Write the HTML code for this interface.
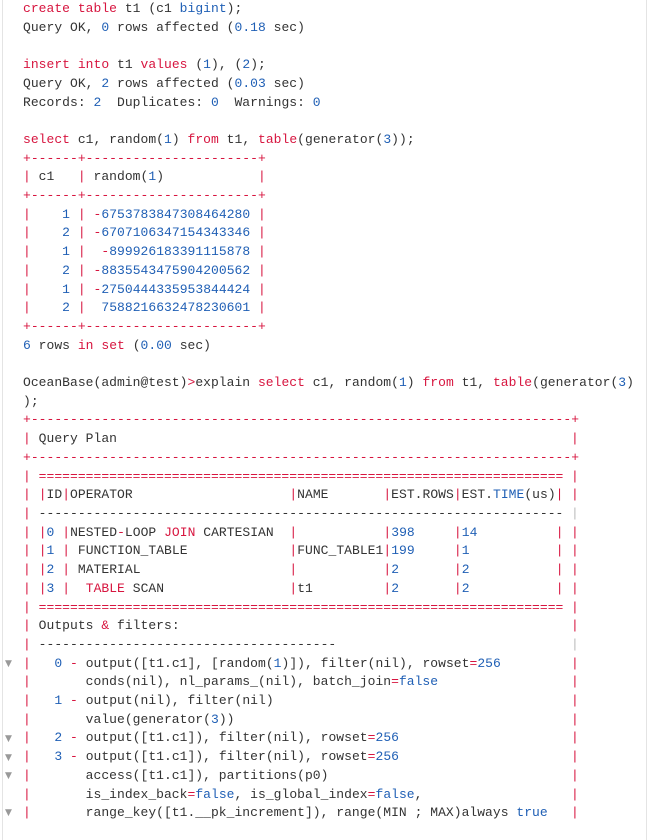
<!DOCTYPE html>
<html><head><meta charset="utf-8"><style>
html,body{margin:0;padding:0;background:#fff;width:649px;height:832px;overflow:hidden;}
.wrap{position:absolute;left:2px;top:0;width:643px;height:840px;border-left:1px solid #e4e4e4;border-right:1px solid #e4e4e4;}
pre{position:absolute;left:23px;top:0px;margin:0;font-family:"Liberation Mono",monospace;font-size:13px;letter-spacing:0.03px;line-height:18.7px;color:#333;}
.k{color:#d7153f}.n{color:#1f5fb5}.g{color:#bbb}
.r{position:absolute;left:548px;color:#d7153f}
.rg{position:absolute;left:548px;color:#bbb}
.f{position:absolute;left:5px;font-size:9px;color:#999;font-family:"DejaVu Sans",sans-serif;}
</style></head><body><div class="wrap"></div>
<pre><span class="k">create</span> <span class="k">table</span> t1 (c1 <span class="n">bigint</span>);
Query OK, <span class="n">0</span> rows affected (<span class="n">0.18</span> sec)

<span class="k">insert</span> <span class="k">into</span> t1 <span class="k">values</span> (<span class="n">1</span>), (<span class="n">2</span>);
Query OK, <span class="n">2</span> rows affected (<span class="n">0.03</span> sec)
Records: <span class="n">2</span>  Duplicates: <span class="n">0</span>  Warnings: <span class="n">0</span>

<span class="k">select</span> c1, random(<span class="n">1</span>) <span class="k">from</span> t1, <span class="k">table</span>(generator(<span class="n">3</span>));
<span class="k">+------+----------------------+</span>
<span class="k">|</span> c1   <span class="k">|</span> random(<span class="n">1</span>)            <span class="k">|</span>
<span class="k">+------+----------------------+</span>
<span class="k">|</span>    <span class="n">1</span> <span class="k">|</span> <span class="k">-</span><span class="n">6753783847308464280</span> <span class="k">|</span>
<span class="k">|</span>    <span class="n">2</span> <span class="k">|</span> <span class="k">-</span><span class="n">6707106347154343346</span> <span class="k">|</span>
<span class="k">|</span>    <span class="n">1</span> <span class="k">|</span>  <span class="k">-</span><span class="n">899926183391115878</span> <span class="k">|</span>
<span class="k">|</span>    <span class="n">2</span> <span class="k">|</span> <span class="k">-</span><span class="n">8835543475904200562</span> <span class="k">|</span>
<span class="k">|</span>    <span class="n">1</span> <span class="k">|</span> <span class="k">-</span><span class="n">2750444335953844424</span> <span class="k">|</span>
<span class="k">|</span>    <span class="n">2</span> <span class="k">|</span>  <span class="n">7588216632478230601</span> <span class="k">|</span>
<span class="k">+------+----------------------+</span>
<span class="n">6</span> rows <span class="k">in</span> <span class="k">set</span> (<span class="n">0.00</span> sec)

OceanBase(admin@test)<span class="k">&gt;</span>explain <span class="k">select</span> c1, random(<span class="n">1</span>) <span class="k">from</span> t1, <span class="k">table</span>(generator(<span class="n">3</span>)
);
<span class="k">+---------------------------------------------------------------------+</span>
<span class="k">|</span> Query Plan<span class="r">|</span>
<span class="k">+---------------------------------------------------------------------+</span>
<span class="k">| ===================================================================</span><span class="r">|</span>
<span class="k">|</span> <span class="k">|</span>ID<span class="k">|</span>OPERATOR                    <span class="k">|</span>NAME       <span class="k">|</span>EST.ROWS<span class="k">|</span>EST.<span class="n">TIME</span>(us)<span class="k">|</span><span class="r">|</span>
<span class="k">|</span> -------------------------------------------------------------------<span class="rg">|</span>
<span class="k">|</span> <span class="k">|</span><span class="n">0</span> <span class="k">|</span>NESTED<span class="k">-</span>LOOP <span class="k">JOIN</span> CARTESIAN  <span class="k">|</span>           <span class="k">|</span><span class="n">398</span>     <span class="k">|</span><span class="n">14</span>          <span class="k">|</span><span class="r">|</span>
<span class="k">|</span> <span class="k">|</span><span class="n">1</span> <span class="k">|</span> FUNCTION_TABLE             <span class="k">|</span>FUNC_TABLE1<span class="k">|</span><span class="n">199</span>     <span class="k">|</span><span class="n">1</span>           <span class="k">|</span><span class="r">|</span>
<span class="k">|</span> <span class="k">|</span><span class="n">2</span> <span class="k">|</span> MATERIAL                   <span class="k">|</span>           <span class="k">|</span><span class="n">2</span>       <span class="k">|</span><span class="n">2</span>           <span class="k">|</span><span class="r">|</span>
<span class="k">|</span> <span class="k">|</span><span class="n">3</span> <span class="k">|</span>  <span class="k">TABLE</span> SCAN                <span class="k">|</span>t1         <span class="k">|</span><span class="n">2</span>       <span class="k">|</span><span class="n">2</span>           <span class="k">|</span><span class="r">|</span>
<span class="k">| ===================================================================</span><span class="r">|</span>
<span class="k">|</span> Outputs <span class="k">&amp;</span> filters:<span class="r">|</span>
<span class="k">|</span> --------------------------------------<span class="rg">|</span>
<span class="k">|</span>   <span class="n">0</span> <span class="k">-</span> output([t1.c1], [random(<span class="n">1</span>)]), filter(nil), rowset<span class="k">=</span><span class="n">256</span><span class="r">|</span>
<span class="k">|</span>       conds(nil), nl_params_(nil), batch_join<span class="k">=</span><span class="n">false</span><span class="r">|</span>
<span class="k">|</span>   <span class="n">1</span> <span class="k">-</span> output(nil), filter(nil)<span class="r">|</span>
<span class="k">|</span>       value(generator(<span class="n">3</span>))<span class="r">|</span>
<span class="k">|</span>   <span class="n">2</span> <span class="k">-</span> output([t1.c1]), filter(nil), rowset<span class="k">=</span><span class="n">256</span><span class="r">|</span>
<span class="k">|</span>   <span class="n">3</span> <span class="k">-</span> output([t1.c1]), filter(nil), rowset<span class="k">=</span><span class="n">256</span><span class="r">|</span>
<span class="k">|</span>       access([t1.c1]), partitions(p0)<span class="r">|</span>
<span class="k">|</span>       is_index_back<span class="k">=</span><span class="n">false</span>, is_global_index<span class="k">=</span><span class="n">false</span>,<span class="r">|</span>
<span class="k">|</span>       range_key([t1.__pk_increment]), range(MIN ; MAX)always <span class="n">true</span><span class="r">|</span>
</pre>
<span class="f" style="top:659px">▼</span>
<span class="f" style="top:734px">▼</span>
<span class="f" style="top:753px">▼</span>
<span class="f" style="top:771px">▼</span>
<span class="f" style="top:808px">▼</span>
</body></html>
